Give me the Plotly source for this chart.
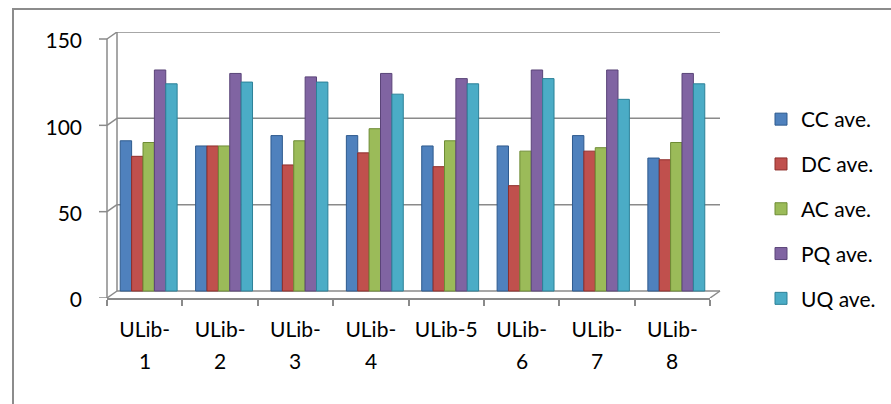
import plotly.graph_objects as go

categories = ["ULib-1", "ULib-2", "ULib-3", "ULib-4", "ULib-5", "ULib-6", "ULib-7", "ULib-8"]
label_line1 = ["ULib-", "ULib-", "ULib-", "ULib-", "ULib-5", "ULib-", "ULib-", "ULib-"]
label_line2 = ["1", "2", "3", "4", "", "6", "7", "8"]
series_names = ["CC ave.", "DC ave.", "AC ave.", "PQ ave.", "UQ ave."]
cc_ave = [87, 84, 90, 90, 84, 84, 90, 77]
dc_ave = [78, 84, 73, 80, 72, 61, 81, 76]
ac_ave = [86, 84, 87, 94, 87, 81, 83, 86]
pq_ave = [128, 126, 124, 126, 123, 128, 128, 126]
uq_ave = [120, 121, 121, 114, 120, 123, 111, 120]
y_ticks = [0, 50, 100, 150]

series_values = [cc_ave, dc_ave, ac_ave, pq_ave, uq_ave]
colors = ["#4F81BD", "#C0504D", "#9BBB59", "#8064A2", "#4BACC6"]
edges = ["#2E5A8E", "#8E2E2B", "#6E8C35", "#5A4478", "#2C8198"]

W, H = 891, 404
L, R, T, B = 107, 891 - 710, 32, 404 - 298
plot_w = W - L - R
plot_h = H - T - B
depth_x = 10          # px offset of back wall
depth_y = 7           # px offset of back wall
ymax = 150
ymin = -depth_y * ymax / (plot_h - depth_y)
ppu = plot_h / (ymax - ymin)
dx = depth_x / plot_w
grid_col = "#8a8a8a"
font_family = "Lato, 'Open Sans', sans-serif"
fs = 21

group_w = 0.755
bar_w = group_w / len(series_names)
shift = 4 / (plot_w / len(categories))   # bars sit slightly into the depth

fig = go.Figure()
for i, (name, vals, c, e) in enumerate(zip(series_names, series_values, colors, edges)):
    fig.add_trace(go.Bar(x=categories, y=vals, name=name, legendgroup=name,
                         width=bar_w, offset=-group_w / 2 + i * bar_w + shift,
                         marker=dict(color=c, line=dict(color=e, width=1))))

shapes = []
for v in y_ticks:
    shapes.append(dict(type="line", xref="x domain", yref="y", x0=dx, x1=1 + dx,
                       y0=v, y1=v, line=dict(color=grid_col, width=1.5), layer="below"))
    shapes.append(dict(type="line", xref="x domain", yref="y", ysizemode="pixel", yanchor=v,
                       x0=0, y0=-depth_y, x1=dx, y1=0, line=dict(color=grid_col, width=1.5),
                       layer="below"))
    shapes.append(dict(type="line", xref="x domain", yref="y", ysizemode="pixel", yanchor=v,
                       x0=-8 / plot_w, y0=-depth_y, x1=0, y1=-depth_y,
                       line=dict(color=grid_col, width=1.5)))
shapes.append(dict(type="line", xref="x domain", yref="y", ysizemode="pixel", yanchor=0,
                   x0=1, y0=-depth_y, x1=1 + dx, y1=0, line=dict(color=grid_col, width=1.5),
                   layer="below"))
shapes.append(dict(type="line", xref="x domain", yref="y", x0=0, x1=0,
                   y0=ymin, y1=ymax - depth_y / ppu, line=dict(color=grid_col, width=1.5)))
shapes.append(dict(type="line", xref="x domain", yref="y", x0=dx, x1=dx,
                   y0=0, y1=ymax, line=dict(color=grid_col, width=1.5), layer="below"))
fx0 = (13 - L) / plot_w
fy1 = (H - B - 9) / plot_h
shapes.append(dict(type="rect", xref="paper", yref="paper", x0=fx0, x1=3, y0=-3, y1=fy1,
                   line=dict(color="#8c8c8c", width=2), fillcolor="rgba(0,0,0,0)"))

annotations = []
for cat, t in zip(categories, label_line2):
    if t:
        annotations.append(dict(x=cat, xref="x", y=(H - B - 360) / plot_h, yref="paper",
                                text=t, showarrow=False, yanchor="middle",
                                font=dict(size=fs, color="black", family=font_family)))

fig.update_layout(
    width=W, height=H,
    margin=dict(l=L, r=R, t=T, b=B, autoexpand=False),
    paper_bgcolor="white", plot_bgcolor="rgba(0,0,0,0)",
    barmode="group",
    font=dict(family=font_family, size=fs, color="black"),
    showlegend=True,
    legend=dict(x=(761 - L) / plot_w, xanchor="left", y=(H - B - 99) / plot_h, yanchor="top",
                font=dict(size=fs), tracegroupgap=14.5, itemwidth=30,
                bgcolor="rgba(0,0,0,0)"),
    shapes=shapes,
    annotations=annotations,
    xaxis=dict(type="category", range=[-0.5, 7.5], tickvals=categories, ticktext=label_line1,
               showline=True, linecolor=grid_col, linewidth=1.5, ticks="outside",
               tickson="boundaries", ticklen=6, tickcolor=grid_col, tickwidth=1.5,
               showgrid=False, ticklabelstandoff=12, tickfont=dict(size=fs)),
    yaxis=dict(range=[ymin, ymax], tickvals=y_ticks, showgrid=False, zeroline=False,
               showline=False, ticks="", ticklabelshift=9, ticklabelstandoff=24,
               tickfont=dict(size=fs)),
)

fig.write_html("out.html", config={"displayModeBar": False},
               post_script="document.body.style.margin='0';")
